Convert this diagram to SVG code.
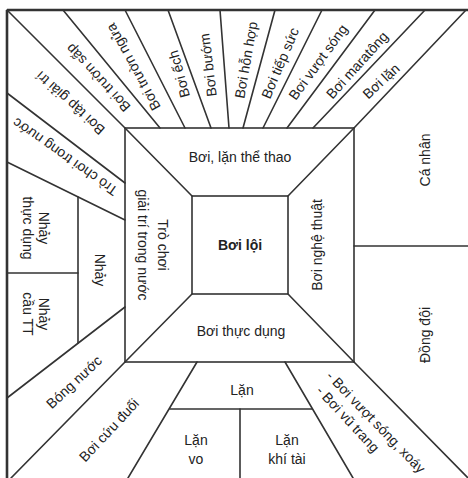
<svg xmlns="http://www.w3.org/2000/svg" width="468" height="478" viewBox="0 0 468 478">
<style>
.ln{stroke:#333;stroke-width:1.6;fill:none;stroke-linecap:round}
.bd{stroke:#333;stroke-width:2.6;fill:none}
text{font-family:"Liberation Sans",Arial,sans-serif;font-size:14px;fill:#222;text-anchor:middle;dominant-baseline:central}
.b{font-weight:bold}
</style>
<rect width="468" height="478" fill="#fff"/>
<g id="connectors">
<line class="bd" x1="7" y1="10" x2="468" y2="10"/>
<line class="bd" x1="7" y1="10" x2="7" y2="478"/>
<rect class="ln" x="125" y="128" width="229" height="234"/>
<rect class="ln" x="192" y="196" width="96" height="98"/>
<line class="ln" x1="125" y1="128" x2="192" y2="196"/>
<line class="ln" x1="354" y1="128" x2="288" y2="196"/>
<line class="ln" x1="125" y1="362" x2="192" y2="294"/>
<line class="ln" x1="354" y1="362" x2="288" y2="294"/>
<line class="ln" x1="7" y1="10" x2="125" y2="128"/>
<line class="ln" x1="63" y1="10" x2="160" y2="128"/>
<line class="ln" x1="125" y1="10" x2="185" y2="128"/>
<line class="ln" x1="168" y1="10" x2="211" y2="128"/>
<line class="ln" x1="220" y1="10" x2="229" y2="128"/>
<line class="ln" x1="275" y1="10" x2="243" y2="128"/>
<line class="ln" x1="322" y1="10" x2="263" y2="128"/>
<line class="ln" x1="375" y1="10" x2="287" y2="128"/>
<line class="ln" x1="425" y1="10" x2="313" y2="128"/>
<line class="ln" x1="466" y1="10" x2="354" y2="128"/>
<line class="ln" x1="7" y1="93" x2="125" y2="183"/>
<line class="ln" x1="7" y1="162" x2="125" y2="220"/>
<line class="ln" x1="78" y1="197" x2="78" y2="343"/>
<line class="ln" x1="7" y1="273" x2="78" y2="273"/>
<line class="ln" x1="7" y1="398" x2="125" y2="307"/>
<line class="ln" x1="125" y1="362" x2="11" y2="478"/>
<line class="ln" x1="197" y1="362" x2="128" y2="478"/>
<line class="ln" x1="285" y1="362" x2="353" y2="478"/>
<line class="ln" x1="170" y1="409" x2="312" y2="409"/>
<line class="ln" x1="240" y1="409" x2="240" y2="478"/>
<line class="ln" x1="354" y1="362" x2="468" y2="478"/>
<line class="ln" x1="354" y1="246" x2="468" y2="246"/>
</g>
<g id="boi-loi"><text class="b" x="240" y="245">Bơi lội</text></g>
<g id="boi-lan-the-thao"><text x="240" y="157">Bơi, lặn thể thao</text></g>
<g id="boi-thuc-dung"><text x="241" y="331">Bơi thực dụng</text></g>
<g id="tro-choi-giai-tri"><g transform="translate(153,245) rotate(90)"><text x="0" y="-10">Trò chơi</text><text x="0" y="10">giải trí trong nước</text></g></g>
<g id="boi-nghe-thuat"><text transform="translate(317,245) rotate(-90)">Bơi nghệ thuật</text></g>
<g id="ca-nhan"><text transform="translate(425,160) rotate(-90)">Cá nhân</text></g>
<g id="dong-doi"><text transform="translate(425,335) rotate(-90)">Đồng đội</text></g>
<g id="boi-truon-sap"><text transform="translate(98,78) rotate(-133)">Bơi trườn sấp</text></g>
<g id="boi-truon-ngua"><text transform="translate(133,67) rotate(-119)">Bơi trườn ngửa</text></g>
<g id="boi-ech"><text transform="translate(179,74) rotate(-105)">Bơi ếch</text></g>
<g id="boi-buom"><text transform="translate(208,65) rotate(-97)">Bơi bướm</text></g>
<g id="boi-hon-hop"><text transform="translate(246,60) rotate(-80)">Bơi hỗn hợp</text></g>
<g id="boi-tiep-suc"><text transform="translate(280,63) rotate(-67)">Bơi tiếp sức</text></g>
<g id="boi-vuot-song"><text transform="translate(318,62) rotate(-54)">Bơi vượt sóng</text></g>
<g id="boi-maratong"><text transform="translate(357,65) rotate(-48)">Bơi maratông</text></g>
<g id="boi-lan"><text transform="translate(381,81) rotate(-43)">Bơi lặn</text></g>
<g id="boi-tap-giai-tri"><text transform="translate(70,103) rotate(-138)">Bơi tập giải trí</text></g>
<g id="tro-choi-trong-nuoc"><text transform="translate(65,157) rotate(-145)">Trò chơi trong nước</text></g>
<g id="nhay-thuc-dung"><g transform="translate(36,228) rotate(90)"><text x="0" y="-8">Nhảy</text><text x="0" y="8">thực dụng</text></g></g>
<g id="nhay"><text transform="translate(100,270) rotate(90)">Nhảy</text></g>
<g id="nhay-cau"><g transform="translate(36,314) rotate(90)"><text x="0" y="-8">Nhảy</text><text x="0" y="8">cầu TT</text></g></g>
<g id="bong-nuoc"><text transform="translate(74,382) rotate(-43)">Bóng nước</text></g>
<g id="boi-cuu-duoi"><text transform="translate(109,430) rotate(-47)">Bơi cứu đuối</text></g>
<g id="lan"><text x="242" y="390">Lặn</text></g>
<g id="lan-vo"><text x="196" y="440">Lặn</text><text x="196" y="459">vo</text></g>
<g id="lan-khi-tai"><text x="287" y="440">Lặn</text><text x="287" y="459">khí tài</text></g>
<g id="boi-vuot-song-xoay"><text transform="translate(376,422) rotate(46)">- Bơi vượt sóng, xoáy</text></g>
<g id="boi-vu-trang"><text transform="translate(348,419) rotate(47)">- Bơi vũ trang</text></g>
</svg>
